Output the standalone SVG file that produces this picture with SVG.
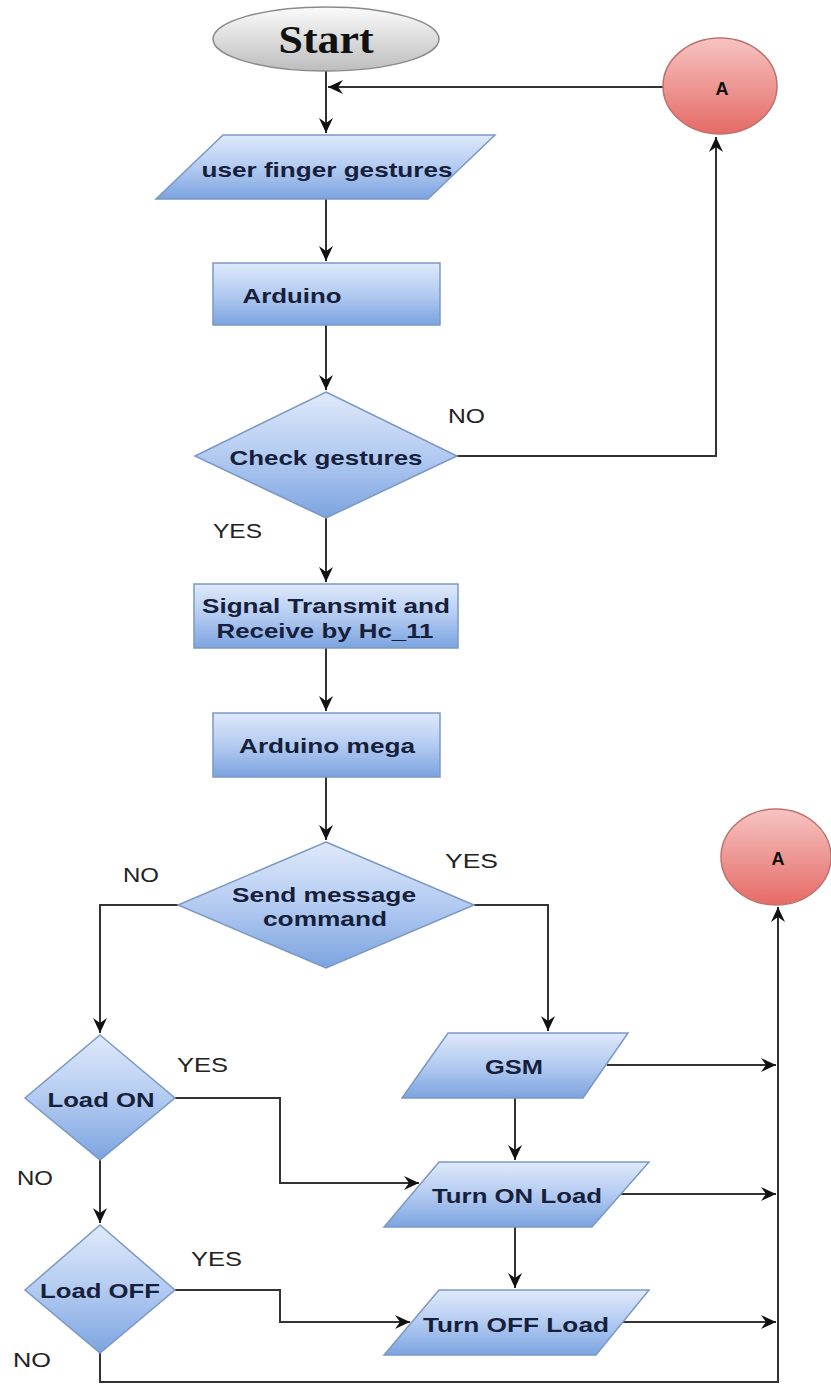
<svg xmlns="http://www.w3.org/2000/svg" width="831" height="1386" viewBox="0 0 831 1386">
<style>
.node{fill:url(#blue);stroke:#7b98c4;stroke-width:1.5}
.lbl{font-family:"Liberation Sans",Arial,sans-serif;font-weight:bold;font-size:21px;fill:#17203a;text-anchor:middle}
.yn{font-family:"Liberation Sans",Arial,sans-serif;font-size:21px;fill:#222;text-anchor:start}
.con{fill:none;stroke:#333;stroke-width:2}
</style>
<defs>
<linearGradient id="blue" x1="0" y1="0" x2="0" y2="1">
<stop offset="0" stop-color="#dfe9fa"/>
<stop offset="0.5" stop-color="#b3cbf1"/>
<stop offset="1" stop-color="#7ca3e0"/>
</linearGradient>
<linearGradient id="red" x1="0" y1="0" x2="0" y2="1">
<stop offset="0" stop-color="#f6c4c2"/>
<stop offset="1" stop-color="#e56a66"/>
</linearGradient>
<linearGradient id="gray" x1="0" y1="0" x2="0" y2="1">
<stop offset="0" stop-color="#fbfbfb"/>
<stop offset="1" stop-color="#bdbdbd"/>
</linearGradient>
<marker id="arr" markerUnits="userSpaceOnUse" markerWidth="16" markerHeight="14" refX="15" refY="7" orient="auto">
<path d="M0,0 L15,7 L0,14 L5,7 Z" fill="#111"/>
</marker>
</defs>

<g id="connectors">
<path class="con" d="M326,71 V133" marker-end="url(#arr)"/>
<path class="con" d="M663,87 H328" marker-end="url(#arr)"/>
<path class="con" d="M326,199 V261" marker-end="url(#arr)"/>
<path class="con" d="M326,325 V390" marker-end="url(#arr)"/>
<path class="con" d="M457,456 H716 V137" marker-end="url(#arr)"/>
<path class="con" d="M326,518 V582" marker-end="url(#arr)"/>
<path class="con" d="M326,648 V711" marker-end="url(#arr)"/>
<path class="con" d="M326,777 V840" marker-end="url(#arr)"/>
<path class="con" d="M178,905 H100 V1033" marker-end="url(#arr)"/>
<path class="con" d="M474,905 H548 V1031" marker-end="url(#arr)"/>
<path class="con" d="M175,1098 H280 V1183 H419" marker-end="url(#arr)"/>
<path class="con" d="M100,1160 V1223" marker-end="url(#arr)"/>
<path class="con" d="M515,1098 V1160" marker-end="url(#arr)"/>
<path class="con" d="M607,1065 H776" marker-end="url(#arr)"/>
<path class="con" d="M620,1194 H776" marker-end="url(#arr)"/>
<path class="con" d="M515,1227 V1288" marker-end="url(#arr)"/>
<path class="con" d="M175,1290 H280 V1322 H410" marker-end="url(#arr)"/>
<path class="con" d="M622,1322 H776" marker-end="url(#arr)"/>
<path class="con" d="M100,1353 V1382 H778 V907" marker-end="url(#arr)"/>
</g>

<g id="start">
<ellipse cx="326" cy="39" rx="113" ry="32" fill="url(#gray)" stroke="#8a8a8a" stroke-width="1.5"/>
<text x="326" y="53" font-family="Liberation Serif,'Times New Roman',serif" font-weight="bold" font-size="40" fill="#111" text-anchor="middle" textLength="95" lengthAdjust="spacingAndGlyphs">Start</text>
</g>

<g id="connectorA1">
<ellipse cx="720" cy="86" rx="57" ry="48" fill="url(#red)" stroke="#c0706c" stroke-width="1.5"/>
<text x="722" y="95" font-family="Liberation Sans,Arial,sans-serif" font-weight="bold" font-size="18" fill="#111" text-anchor="middle">A</text>
</g>

<g id="userFinger">
<polygon class="node" points="223,135 495,135 428,199 156,199"/>
<text class="lbl" x="327" y="177" textLength="251" lengthAdjust="spacingAndGlyphs">user finger gestures</text>
</g>

<g id="arduino">
<rect class="node" x="213" y="263" width="227" height="62"/>
<text class="lbl" x="292" y="303" textLength="99" lengthAdjust="spacingAndGlyphs">Arduino</text>
</g>

<g id="checkGestures">
<polygon class="node" points="326,392 457,456 326,518 195,456"/>
<text class="lbl" x="326" y="465" font-size="22" textLength="193" lengthAdjust="spacingAndGlyphs">Check gestures</text>
</g>

<g id="signal">
<rect class="node" x="194" y="584" width="264" height="64"/>
<text class="lbl" x="326" y="613" textLength="248" lengthAdjust="spacingAndGlyphs">Signal Transmit and</text>
<text class="lbl" x="325" y="638" textLength="217" lengthAdjust="spacingAndGlyphs">Receive by Hc_11</text>
</g>

<g id="arduinoMega">
<rect class="node" x="213" y="713" width="227" height="64"/>
<text class="lbl" x="327" y="753" textLength="176" lengthAdjust="spacingAndGlyphs">Arduino mega</text>
</g>

<g id="sendMessage">
<polygon class="node" points="326,842 474,905 326,968 178,905"/>
<text class="lbl" x="324" y="902" textLength="184" lengthAdjust="spacingAndGlyphs">Send message</text>
<text class="lbl" x="325" y="926" textLength="124" lengthAdjust="spacingAndGlyphs">command</text>
</g>

<g id="connectorA2">
<ellipse cx="776" cy="857" rx="55" ry="48" fill="url(#red)" stroke="#c0706c" stroke-width="1.5"/>
<text x="778" y="865" font-family="Liberation Sans,Arial,sans-serif" font-weight="bold" font-size="18" fill="#111" text-anchor="middle">A</text>
</g>

<g id="loadOn">
<polygon class="node" points="100,1035 175,1098 100,1160 25,1098"/>
<text class="lbl" x="101" y="1107" textLength="107" lengthAdjust="spacingAndGlyphs">Load ON</text>
</g>

<g id="gsm">
<polygon class="node" points="448,1033 628,1033 583,1098 402,1098"/>
<text class="lbl" x="514" y="1074" textLength="58" lengthAdjust="spacingAndGlyphs">GSM</text>
</g>

<g id="turnOn">
<polygon class="node" points="439,1162 649,1162 592,1227 384,1227"/>
<text class="lbl" x="517" y="1203" textLength="170" lengthAdjust="spacingAndGlyphs">Turn ON Load</text>
</g>

<g id="loadOff">
<polygon class="node" points="100,1225 175,1290 100,1353 25,1290"/>
<text class="lbl" x="100" y="1298" textLength="120" lengthAdjust="spacingAndGlyphs">Load OFF</text>
</g>

<g id="turnOff">
<polygon class="node" points="439,1290 649,1290 596,1355 384,1355"/>
<text class="lbl" x="516" y="1332" textLength="186" lengthAdjust="spacingAndGlyphs">Turn OFF Load</text>
</g>

<g id="labels">
<text class="yn" x="448" y="423" textLength="37" lengthAdjust="spacingAndGlyphs">NO</text>
<text class="yn" x="213" y="538" textLength="49" lengthAdjust="spacingAndGlyphs">YES</text>
<text class="yn" x="123" y="882" textLength="36" lengthAdjust="spacingAndGlyphs">NO</text>
<text class="yn" x="445" y="868" textLength="53" lengthAdjust="spacingAndGlyphs">YES</text>
<text class="yn" x="177" y="1072" textLength="51" lengthAdjust="spacingAndGlyphs">YES</text>
<text class="yn" x="17" y="1185" textLength="36" lengthAdjust="spacingAndGlyphs">NO</text>
<text class="yn" x="191" y="1266" textLength="51" lengthAdjust="spacingAndGlyphs">YES</text>
<text class="yn" x="13" y="1367" textLength="38" lengthAdjust="spacingAndGlyphs">NO</text>
</g>
</svg>
